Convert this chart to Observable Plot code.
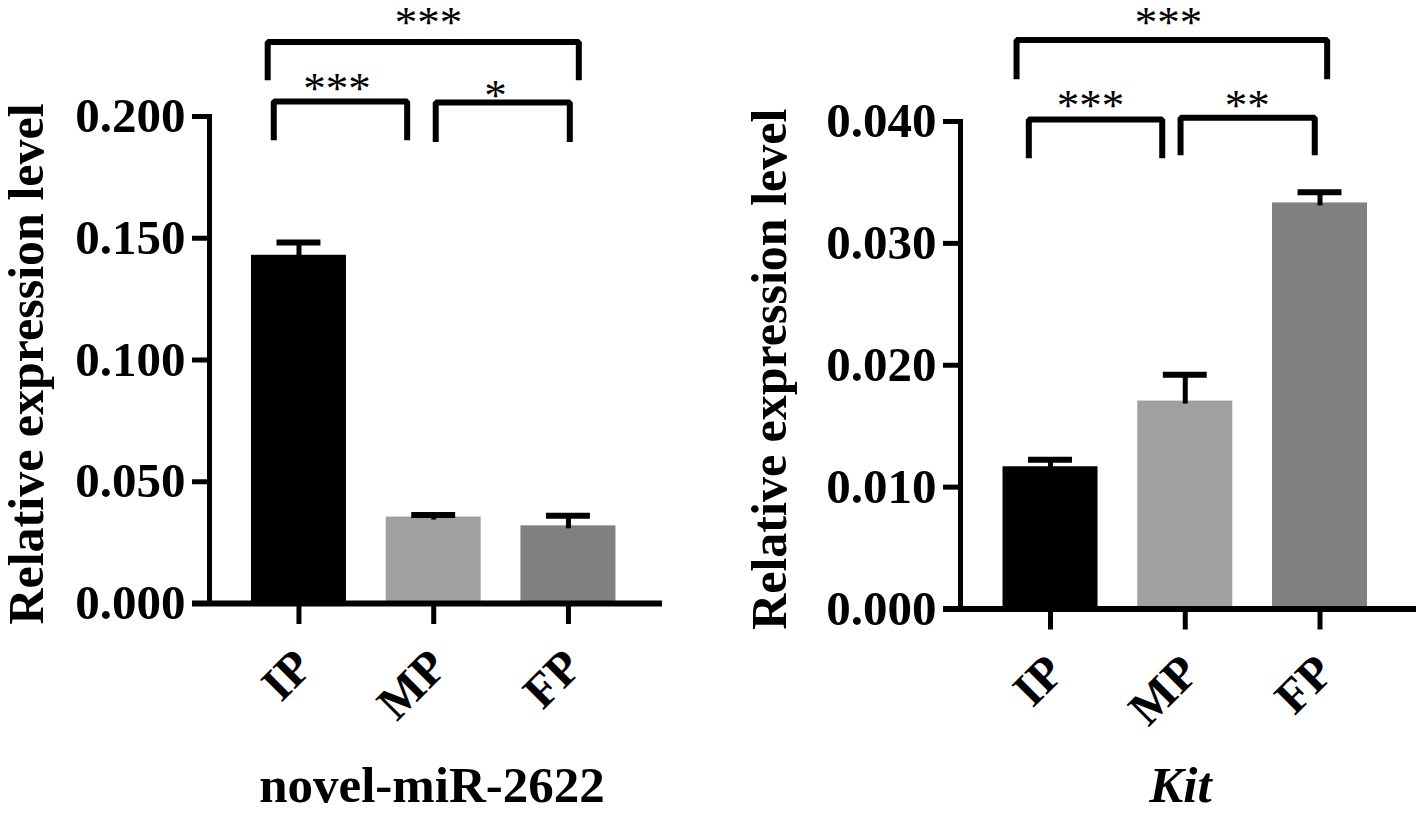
<!DOCTYPE html>
<html><head><meta charset="utf-8">
<script src="https://cdn.jsdelivr.net/npm/d3@7"></script>
<script src="https://cdn.jsdelivr.net/npm/@observablehq/plot@0.6"></script>
<style>
body{margin:0;background:#fff;}
#wrap{display:flex;width:1416px;height:813px;overflow:hidden;}
#wrap > div{width:708px;height:813px;}
svg{overflow:visible;}
</style></head><body><div id="wrap"><div id="a"></div><div id="b"></div></div>
<script>
// ---- data ----
const groups = ["IP", "MP", "FP"];
const barColors = ["#000000", "#a0a0a0", "#808080"];

const mirTitle = "novel-miR-2622";
const mirMean = [0.1430, 0.0355, 0.0319];
const mirSem = [0.0053, 0.0008, 0.0041];
const mirTicks = [0, 0.05, 0.10, 0.15, 0.20];
// significance brackets (category-index units / data units)
const mirBracketFrom = [-0.232, -0.187, 1.015];
const mirBracketTo = [2.077, 0.803, 2.010];
const mirBracketTop = [0.2306, 0.2062, 0.2058];
const mirBracketLeg = [0.2149, 0.1902, 0.1895];
const mirStars = ["***", "***", "*"];
const mirStarX = [0.961, 0.283, 1.458];
const mirStarY = [0.2420, 0.2149, 0.2120];

const kitTitle = "Kit";
const kitMean = [0.01167, 0.01706, 0.03332];
const kitSem = [0.00058, 0.00217, 0.00088];
const kitTicks = [0, 0.01, 0.02, 0.03, 0.04];
const kitBracketFrom = [-0.252, -0.161, 0.965];
const kitBracketTo = [2.053, 0.829, 1.961];
const kitBracketTop = [0.04668, 0.04016, 0.04030];
const kitBracketLeg = [0.04347, 0.03699, 0.03723];
const kitStars = ["***", "***", "**"];
const kitStarX = [0.876, 0.297, 1.460];
const kitStarY = [0.04881, 0.04195, 0.04195];

const yLabel = "Relative expression level";

// ---- style constants ----
const barHalf = 0.3525;
const capHalf = 0.163;
const FONT = "'Liberation Serif', 'Times New Roman', serif";

function panel(p) {
  const bars = groups.map((g, i) => ({g, i, mean: p.mean[i], sem: p.sem[i], color: barColors[i]}));
  const brackets = p.from.flatMap((f, k) => [
    {k, x: f, y: p.leg[k]}, {k, x: f, y: p.top[k]},
    {k, x: p.to[k], y: p.top[k]}, {k, x: p.to[k], y: p.leg[k]}
  ]);
  const starData = p.stars.map((s, k) => ({s, x: p.starX[k], y: p.starY[k]}));
  const yMax = p.ticks[p.ticks.length - 1];
  return Plot.plot({
    width: 708, height: 813,
    marginLeft: p.marginLeft, marginRight: p.marginRight,
    marginTop: p.marginTop, marginBottom: p.marginBottom,
    x: {domain: p.xDomain, axis: null},
    y: {domain: [0, yMax], axis: null},
    color: {type: "identity"},
    style: {fontFamily: FONT, fontWeight: "bold", background: "white", overflow: "visible"},
    marks: [
      Plot.rectY(bars, {x1: d => d.i - barHalf, x2: d => d.i + barHalf, y1: 0, y2: "mean", fill: d => d.color}),
      Plot.ruleX(bars, {x: "i", y1: d => d.mean + d.sem, y2: "mean", stroke: "black", strokeWidth: 5, insetBottom: -3}),
      Plot.ruleY(bars, {y: d => d.mean + d.sem, x1: d => d.i - capHalf, x2: d => d.i + capHalf, stroke: "black", strokeWidth: 6}),
      Plot.ruleX([p.xDomain[0]], {y1: yMax, y2: 0, stroke: "black", strokeWidth: 5, insetBottom: -3, insetTop: -2}),
      Plot.ruleY([0], {stroke: "black", strokeWidth: 6, insetLeft: -17}),
      Plot.axisY({ticks: p.ticks, tickFormat: d3.format(".3f"), tickSize: 17, tickPadding: 7,
        fontSize: 49, strokeWidth: 5, label: null, fill: "black"}),
      Plot.axisX({ticks: [0, 1, 2], tickFormat: i => groups[i], tickSize: 21, tickPadding: 0,
        strokeWidth: 5, label: null, text: null}),
      Plot.axisX({ticks: [0, 1, 2], tickFormat: i => groups[i], tickSize: 0, tickPadding: 55, dx: 5,
        tickRotate: -45, fontSize: 48, label: null, fill: "black"}),
      Plot.line(brackets, {x: "x", y: "y", z: "k", stroke: "black", strokeWidth: 6,
        strokeLinejoin: "miter", strokeLinecap: "butt"}),
      Plot.text(starData, {x: "x", y: "y", text: "s", fontSize: 45, fontWeight: "normal", dy: 8,
        letterSpacing: "-1px", fill: "black"}),
      Plot.text([p.title], {frameAnchor: "bottom", lineAnchor: "bottom", dy: p.titleDy, dx: p.titleDx,
        fontSize: 51, fontStyle: p.titleStyle, fill: "black"}),
      Plot.text([yLabel], {frameAnchor: "left", textAnchor: "middle", rotate: -90, lineAnchor: "bottom",
        dx: p.ylabelDx, dy: 4, fontSize: 50, fill: "black", letterSpacing: "1.2px"})
    ]
  });
}

document.getElementById("a").append(panel({
  mean: mirMean, sem: mirSem, ticks: mirTicks,
  xDomain: [-0.664, 2.698], marginLeft: 209, marginRight: 46, marginTop: 116, marginBottom: 210,
  from: mirBracketFrom, to: mirBracketTo, top: mirBracketTop, leg: mirBracketLeg,
  stars: mirStars, starX: mirStarX, starY: mirStarY,
  title: mirTitle, titleStyle: "normal", titleDx: -4, titleDy: 198, ylabelDx: -167
}));
document.getElementById("b").append(panel({
  mean: kitMean, sem: kitSem, ticks: kitTicks,
  xDomain: [-0.668, 2.716], marginLeft: 252, marginRight: 0, marginTop: 121, marginBottom: 204.5,
  from: kitBracketFrom, to: kitBracketTo, top: kitBracketTop, leg: kitBracketLeg,
  stars: kitStars, starX: kitStarX, starY: kitStarY,
  title: kitTitle, titleStyle: "italic", titleDx: -8, titleDy: 192.5, ylabelDx: -175
}));
</script>
</body></html>
